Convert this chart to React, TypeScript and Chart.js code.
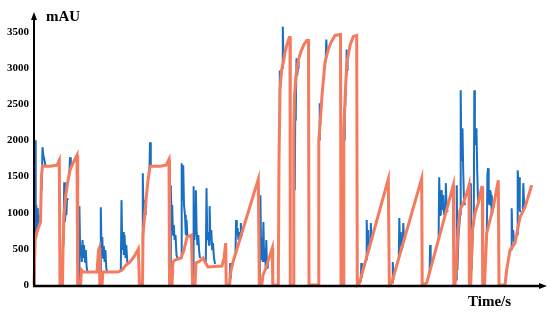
import React, { useEffect, useRef } from 'react';
import { Chart, registerables } from 'chart.js';

Chart.register(...registerables);

const yTicks = [0, 500, 1000, 1500, 2000, 2500, 3000, 3500];
const yTitle = 'mAU';
const xTitle = 'Time/s';

// orange trace (time, value)
const orangeTime = [
  0, 0.7, 1.2, 3, 5, 6.5, 7.5, 8.5, 16, 23, 25.3,
  26, 28.5, 29, 30, 31.5, 34, 36, 39, 43,
  43.7, 46.5, 47.5, 49, 63, 64.5, 65.3,
  65.8, 68, 69, 84, 88, 92, 96, 101, 104.3,
  105.5, 108.5, 109, 112, 114, 116, 126, 132, 135,
  135.5, 138, 139, 141, 147, 150, 153, 157.5,
  158.5, 161, 162, 166, 169, 171, 174, 188, 190, 191.7,
  192.2, 195.5, 197, 199, 224.3,
  225.3, 227.7, 229, 232, 238.3,
  238.8, 244.3, 245, 246, 247.5, 249.3, 251, 253, 255.3, 256,
  256.3, 259.3, 259.8, 260.5, 262, 264.3, 267, 270, 272.7, 274.5,
  275, 284.3, 284.8, 286, 288, 291, 294, 297, 301, 306.5,
  307, 309.3, 309.8, 311, 312.7, 316, 319.3, 322.7,
  323.3, 325.5, 354.3,
  355.3, 357.7, 387.7,
  388.2, 392.7, 419.3,
  419.8, 421, 422, 424, 426, 429.3, 432.7, 435,
  435.4, 436.7, 437.5, 438.5, 441, 444.3, 447.7, 448.3,
  448.7, 450.5, 452.7, 456, 459.3, 464.3,
  465, 471, 472.7, 476, 481, 486, 491, 497.7,
];
const orangeValue = [
  0, 0, 622, 732, 815, 870, 1519, 1644, 1644, 1657, 1726,
  0, 0, 483, 967, 1215, 1450, 1588, 1685, 1795,
  0, 0, 207, 180, 180, 483, 511,
  0, 0, 180, 180, 207, 276, 318, 414, 497,
  0, 0, 690, 1174, 1450, 1644, 1644, 1657, 1740,
  0, 0, 318, 345, 373, 483, 663, 690,
  0, 0, 304, 331, 373, 318, 249, 262, 373, 580,
  0, 0, 207, 318, 1464,
  0, 0, 138, 235, 511,
  0, 0, 1726, 2693, 2969, 3080, 3218, 3328, 3425, 3425,
  0, 0, 2141, 2624, 2900, 3107, 3232, 3328, 3383, 3383,
  0, 0, 2002, 2210, 2624, 3080, 3245, 3356, 3452, 3466,
  0, 0, 2141, 2555, 3066, 3314, 3439, 3452,
  0, 28, 1464,
  0, 28, 1474,
  0, 28, 1381,
  0, 0, 166, 760, 1036, 1132, 1271, 1381,
  0, 0, 345, 760, 994, 1132, 1353, 1353,
  0, 0, 718, 898, 1077, 1450,
  0, 0, 207, 483, 580, 939, 1077, 1381,
];

// blue trace: spikes (time, value), one sub-array per spike group
const blueTime = [
  [0.6, 1.1, 1.7, 2.3, 3, 3.7, 4.4, 5.2, 6],
  [7.7, 8.5, 9.3, 10.5, 11.5],
  [29.4, 30.2, 30.9, 31.6, 32.4, 33, 33.6],
  [35.3, 36, 36.8, 37.8, 38.6],
  [45, 45.4, 46.2, 47, 47.8, 48.5, 49.3, 50, 51, 51.8, 52.7, 53.5],
  [66.3, 66.8, 67.6, 68.3, 69, 69.8, 70.6, 71.4, 72.3, 73],
  [86.8, 87.5, 88.3, 89, 89.8, 90.6, 91.5, 92.3, 93.5],
  [108.3, 108.8, 109.5, 110.3, 111, 111.7],
  [115.4, 116, 116.8],
  [136.3, 136.8, 137.5, 138.2, 139, 139.8, 140.6, 141.5, 142.5, 143.5],
  [147, 147.7, 148.4, 149.2, 150, 151, 151.8, 152.6, 153.4],
  [159, 159.6, 160.4, 161.2, 161.9, 162.6, 163.4, 164.3, 165.2, 166],
  [171.8, 172.5, 173.3, 174.2, 175, 175.6, 176.4, 177.3, 178.2, 179, 180, 181],
  [195.6, 196.2, 196.8],
  [201.5, 202.1, 202.8, 203.6, 204.5, 205.3, 206.2, 206.8, 207.6, 208.5],
  [225.8, 226.4, 227.2, 228, 228.7, 229.4, 230.2, 231, 231.7, 232.3, 233, 233.8],
  [245.3, 245.8, 246.5, 247.3, 248.3, 248.8, 249.5],
  [260.8, 261.2, 261.8, 262.5, 263.2, 264, 264.6],
  [285.2, 285.7, 286.3],
  [291.6, 292.3, 293],
  [310.2, 310.7, 311.3, 312.1, 312.6, 313.1, 313.6, 314.2],
  [326.8, 327.3, 327.9],
  [332.2, 332.7, 333.4, 334.2, 335, 336.3, 336.8, 337.5, 338.5],
  [358.3, 358.8, 359.4],
  [364.8, 365.3, 366, 366.8, 367.6, 368.8, 369.3, 370, 370.8],
  [395.6, 396.1, 396.7],
  [404.6, 405.2, 406, 406.8, 407.6, 408.5, 409.3, 410.2, 411, 411.8, 412.5, 413.5],
  [422.3, 422.8, 423.4, 424.5, 426.2, 426.7, 427.3, 428, 428.5, 429.2, 430, 431],
  [436.4, 436.9, 437.5, 439, 439.8, 440.3, 440.9, 441.6, 442.5, 443.2, 444, 445],
  [452.7, 453.4, 454, 454.7, 455.5, 456.2, 457, 457.8, 458.5],
  [477.2, 477.7, 478.3, 479.2, 480],
  [483.2, 483.7, 484.3, 485, 485.8, 486.6],
  [488.8, 489.3, 490, 491],
];
const blueValue = [
  [0, 2002, 690, 1105, 787, 1063, 815, 967, 829],
  [1312, 1906, 1795, 1726, 1644],
  [552, 1422, 870, 1036, 967, 1201, 1174],
  [1519, 1768, 1657, 1685, 1657],
  [0, 1091, 414, 552, 318, 622, 373, 552, 318, 483, 235, 180],
  [0, 1077, 414, 663, 373, 539, 318, 483, 235, 180],
  [207, 1174, 483, 732, 414, 690, 373, 552, 276],
  [552, 1547, 967, 1132, 1174, 967],
  [1561, 1975, 1644],
  [0, 1381, 967, 1105, 690, 829, 622, 690, 414, 373],
  [373, 1685, 1174, 1657, 1105, 967, 690, 898, 663],
  [0, 1367, 622, 829, 1312, 760, 552, 690, 456, 373],
  [318, 1340, 622, 732, 552, 1091, 622, 760, 483, 580, 373, 290],
  [0, 304, 97],
  [456, 898, 690, 787, 622, 732, 649, 856, 690, 677],
  [0, 1243, 345, 649, 318, 870, 318, 511, 235, 622, 235, 318],
  [2279, 2969, 2762, 2942, 2997, 3577, 3107],
  [1312, 2279, 2417, 3135, 2900, 2997, 3093],
  [2002, 2514, 2210],
  [3080, 3397, 3176],
  [2002, 2458, 2486, 2900, 3259, 2969, 3107, 3107],
  [41, 304, 97],
  [345, 898, 552, 760, 483, 580, 856, 649, 622],
  [28, 318, 69],
  [373, 925, 552, 732, 483, 552, 856, 622, 622],
  [180, 552, 235],
  [622, 1492, 967, 1105, 1312, 1036, 1243, 967, 1036, 1409, 1105, 1008],
  [69, 1381, 207, 690, 967, 2693, 1864, 1726, 2168, 1588, 1174, 1105],
  [69, 1409, 207, 829, 967, 2693, 2072, 1933, 2168, 1588, 1174, 1132],
  [622, 1519, 1616, 1174, 1105, 1312, 1243, 967, 1008],
  [483, 1063, 690, 760, 594],
  [690, 1588, 1450, 1492, 1036, 1008],
  [1036, 1409, 1174, 1077],
];

const ORANGE = '#F47B5E';
const BLUE = '#1A6FC3';
const SERIF = '"Liberation Serif", "Times New Roman", serif';

export default function App() {
  const ref = useRef<HTMLCanvasElement>(null);

  useEffect(() => {
    document.body.style.margin = '0';
    if (!ref.current) return;

    const orangeData = orangeTime.map((t, i) => ({ x: t, y: orangeValue[i] }));
    const blueData: { x: number; y: number | null }[] = [];
    blueTime.forEach((ts, k) => {
      ts.forEach((t, i) => blueData.push({ x: t, y: blueValue[k][i] }));
      blueData.push({ x: ts[ts.length - 1] + 0.05, y: null });
    });

    const axesPlugin = {
      id: 'arrowAxes',
      afterDraw(chart: any) {
        const { ctx, chartArea } = chart;
        const ys = chart.scales.y;
        const x0 = chartArea.left;
        const y0 = ys.getPixelForValue(yTicks[0]);
        const yTop = ys.getPixelForValue(yTicks[yTicks.length - 1]) - 20;
        const xEnd = chartArea.right + 13;
        ctx.save();
        ctx.strokeStyle = '#000';
        ctx.fillStyle = '#000';
        // y axis
        ctx.lineWidth = 2;
        ctx.beginPath();
        ctx.moveTo(x0, y0 + 1);
        ctx.lineTo(x0, yTop + 5);
        ctx.stroke();
        ctx.beginPath();
        ctx.moveTo(x0, yTop);
        ctx.lineTo(x0 - 3, yTop + 8);
        ctx.lineTo(x0 + 3, yTop + 8);
        ctx.closePath();
        ctx.fill();
        // x axis
        ctx.lineWidth = 2.5;
        ctx.beginPath();
        ctx.moveTo(x0 - 1, y0 + 1);
        ctx.lineTo(xEnd - 5, y0 + 1);
        ctx.stroke();
        ctx.beginPath();
        ctx.moveTo(xEnd, y0 + 1);
        ctx.lineTo(xEnd - 8, y0 - 2);
        ctx.lineTo(xEnd - 8, y0 + 4);
        ctx.closePath();
        ctx.fill();
        // titles
        ctx.font = 'bold 15px ' + SERIF;
        ctx.textAlign = 'left';
        ctx.textBaseline = 'alphabetic';
        ctx.fillText(yTitle, x0 + 12, yTop + 9);
        ctx.fillText(xTitle, chartArea.right - 66, y0 + 21);
        ctx.restore();
      },
    };

    const chart = new Chart(ref.current, {
      type: 'line',
      data: {
        datasets: [
          {
            label: 'orange',
            data: orangeData,
            borderColor: ORANGE,
            borderWidth: 3,
            pointRadius: 0,
            tension: 0,
            borderJoinStyle: 'miter',
            clip: false,
          } as any,
          {
            label: 'blue',
            data: blueData,
            borderColor: BLUE,
            borderWidth: 2,
            pointRadius: 0,
            tension: 0,
            spanGaps: false,
            borderJoinStyle: 'bevel',
            clip: false,
          } as any,
        ],
      },
      options: {
        responsive: false,
        animation: false,
        events: [],
        layout: { padding: { left: 0, right: 16, top: 32, bottom: 30 } },
        plugins: { legend: { display: false }, tooltip: { enabled: false } },
        scales: {
          x: { type: 'linear', min: 0, max: 500, display: false },
          y: {
            type: 'linear',
            min: yTicks[0],
            max: yTicks[yTicks.length - 1],
            grid: { display: false, drawTicks: false },
            border: { display: false },
            afterFit: (s: any) => { s.width = 34; },
            ticks: {
              stepSize: 500,
              padding: 5,
              color: '#000',
              font: { family: SERIF, weight: 'bold', size: 11 },
              callback: (v: any) => String(v),
            },
          },
        },
      },
      plugins: [axesPlugin],
    });
    return () => chart.destroy();
  }, []);

  return (
    <div style={{ position: 'fixed', left: 0, top: 0, width: 550, height: 315, background: '#fff' }}>
      <canvas ref={ref} width={550} height={315} style={{ display: 'block' }} />
    </div>
  );
}
